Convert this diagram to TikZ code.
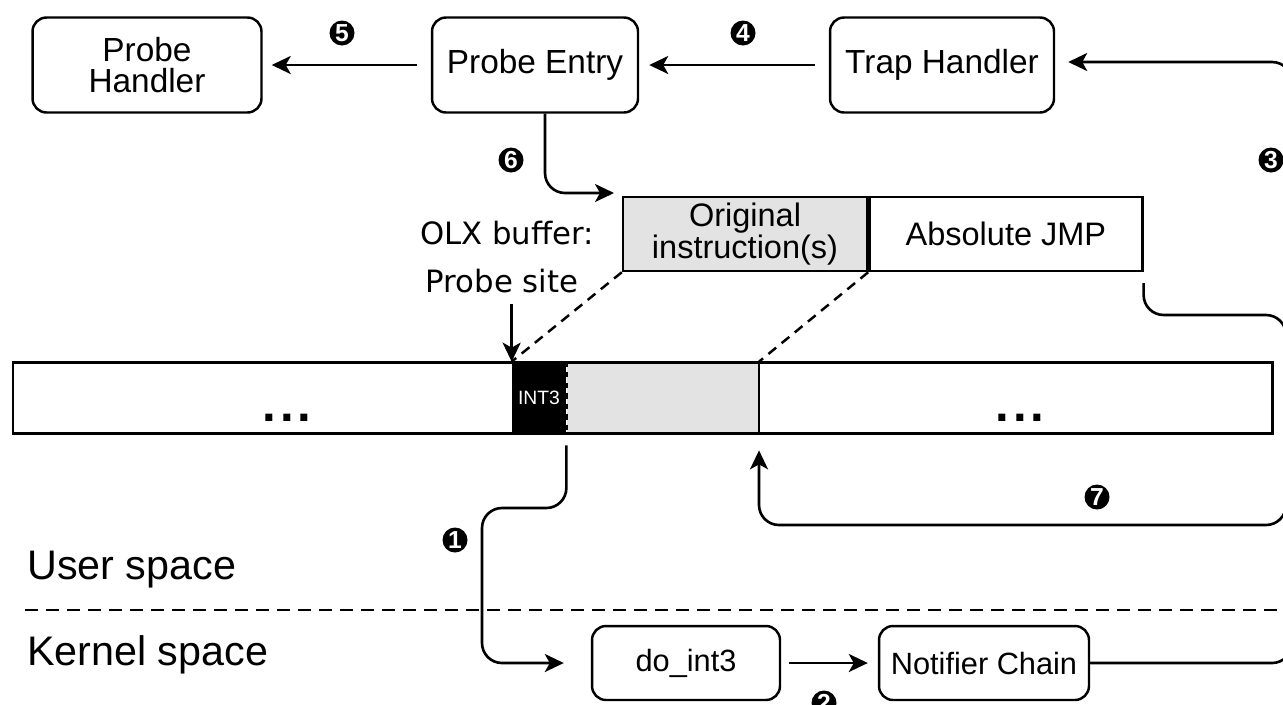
\documentclass[tikz,border=0pt]{standalone}
\usepackage{fontspec}
\setmainfont{Liberation Sans}
\newfontfamily\olxfont{DejaVu Sans}
\usetikzlibrary{arrows.meta,calc}

\tikzset{
    box/.style={draw, line width=1.4pt, rounded corners=0.28cm, minimum height=1.9cm,
        inner sep=0pt, align=center, font=\fontsize{19}{18}\selectfont},
    cell/.style={draw, line width=1.4pt, minimum height=1.48cm, inner sep=0pt,
        align=center, font=\fontsize{18.5}{17}\selectfont},
    flow/.style={line width=1.5pt, -{Stealth[length=0.38cm, width=0.36cm, inset=0.1cm]},
        rounded corners=0.4cm},
    guide/.style={line width=1.4pt, dash pattern=on 0.2cm off 0.14cm},
    dots/.style={anchor=base, font=\fontsize{28}{28}\selectfont\bfseries},
    badge/.style={circle, fill=black, text=white, inner sep=0pt, minimum size=0.5cm,
        font=\fontsize{14}{14}\selectfont\bfseries},
}

\begin{document}
\begin{tikzpicture}[x=0.02cm, y=-0.02cm]
    \useasboundingbox (0,0) rectangle (1283,704);

    % handlers
    \node[box, minimum width=4.58cm] (handler) at (147,65) {Probe\\Handler};
    \node[box, minimum width=4.12cm] (entry) at (535,65) {Probe Entry};
    \node[box, minimum width=4.48cm] (trap) at (942,65) {Trap Handler};

    % out-of-line buffer
    \node[cell, fill=gray!22, minimum width=4.88cm] (orig) at (745,234) {Original\\instruction(s)};
    \node[cell, minimum width=5.46cm, anchor=west] (jmp) at (orig.east) {Absolute JMP};
    \node[anchor=east, font=\olxfont\fontsize{17.5}{20}\selectfont] (olx) at (600,233) {OLX buffer:};
    \node[font=\olxfont\fontsize{17.5}{20}\selectfont] (site) at (502,281) {Probe site};

    % code
    \node[fill=black, text=white, minimum width=1.08cm, minimum height=1.42cm, inner sep=0pt,
        font=\fontsize{11}{11}\selectfont] (int3) at (539,397.5) {INT3};
    \node[fill=gray!22, minimum width=3.84cm, minimum height=1.42cm, inner sep=0pt,
        anchor=west] (saved) at (int3.east) {};
    \draw[line width=1.7pt] (13,362) rectangle (1272,433);
    \draw[line width=1.4pt] (saved.north east) -- (saved.south east);
    \draw[line width=1.4pt, dashed] (saved.north west) -- (saved.south west);
    \node[dots] (dotsl) at (287,421) {.\hspace{0.08cm}.\hspace{0.08cm}.};
    \node[dots] (dotsr) at (1020,421) {.\hspace{0.08cm}.\hspace{0.08cm}.};

    % user / kernel
    \node[anchor=west, font=\fontsize{23.5}{26}\selectfont] (user) at (21,570) {User space};
    \node[anchor=west, font=\fontsize{23.5}{26}\selectfont] (kernel) at (21,655) {Kernel space};
    \draw[line width=1.4pt, dash pattern=on 0.26cm off 0.16cm] (25,610) -- (1283,610);
    \node[box, minimum width=3.76cm, minimum height=1.48cm, font=\fontsize{17.5}{18}\selectfont]
        (doint) at (686,663) {do\_int3};
    \node[box, minimum width=4.2cm, minimum height=1.48cm, font=\fontsize{17.5}{18}\selectfont]
        (notif) at (984,663) {Notifier Chain};

    % arrows
    \coordinate (bend1) at (482,508);
    \draw[flow, shorten <=0.24cm, shorten >=0.54cm] (int3.south east) |- (bend1) |- (doint.west);
    \draw[flow, shorten <=0.16cm, shorten >=0.2cm] (doint) -- (notif);
    \coordinate (edge3) at (1292,62);
    \draw[flow, shorten >=0.26cm] (notif.east) -| (edge3) -- (trap.east |- edge3);
    \draw[flow, shorten <=0.28cm, shorten >=0.2cm] (trap) -- (entry);
    \draw[flow, shorten <=0.28cm, shorten >=0.18cm] (entry) -- (handler);
    \coordinate (in6) at (614,193);
    \draw[flow] ($(entry.south)+(0.2cm,0)$) |- (in6);
    \draw[flow, shorten <=0.1cm] (site.south -| int3.north west) -- (int3.north west);
    \draw[guide] (orig.south west) -- (int3.north west);
    \draw[guide] (orig.south east) -- (saved.north east);
    \coordinate (turn7a) at (1286,315);
    \coordinate (turn7b) at (1286,525);
    \draw[flow, shorten <=0.22cm, shorten >=0.34cm] (jmp.south east) |- (turn7a) -- (turn7b) -| (saved.south east);

    % step numbers
    \node[badge] (n1) at (455,540) {1};
    \node[badge] (n2) at (824,703) {2};
    \node[badge] (n3) at (1271,160) {3};
    \node[badge] (n4) at (743,33) {4};
    \node[badge] (n5) at (342,33) {5};
    \node[badge] (n6) at (511,160) {6};
    \node[badge] (n7) at (1097,497) {7};
\end{tikzpicture}
\end{document}
